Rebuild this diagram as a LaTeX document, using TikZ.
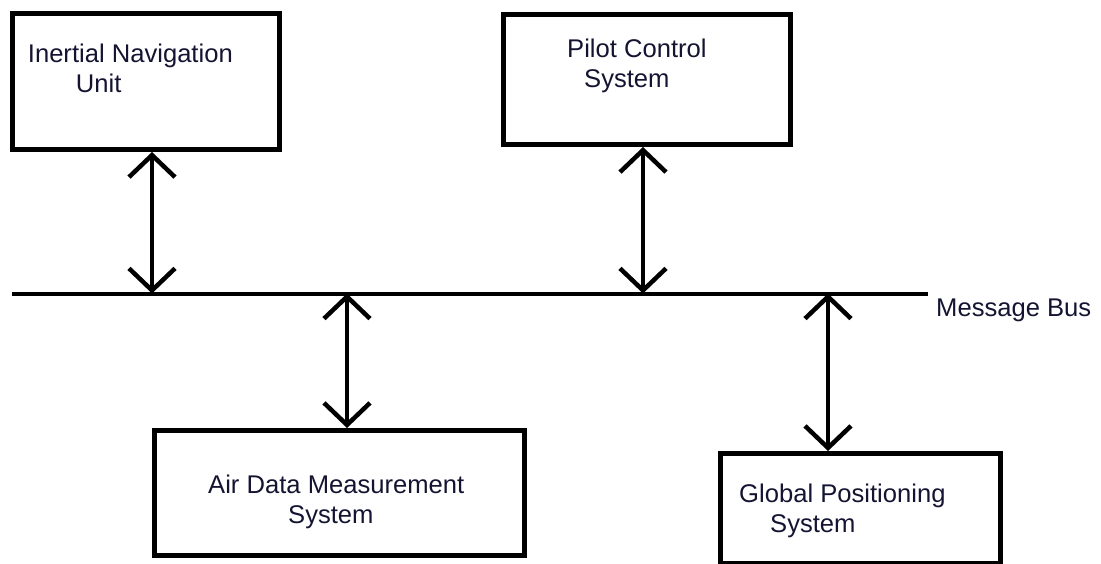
\documentclass[tikz,border=0pt]{standalone}
\usepackage{fontspec}
\setmainfont{Liberation Sans}
\usetikzlibrary{arrows.meta}
\definecolor{ink}{HTML}{141432}
\tikzset{
  unitbox/.style={draw, line width=5pt, inner sep=0pt, rectangle},
  boxtext/.style={anchor=base west, inner sep=0pt, text=ink,
    font=\fontsize{25.6}{30}\selectfont},
  barb/.tip={Straight Barb[length=22pt, width=46pt, line width=4.5pt]},
  buslink/.style={line width=4.5pt, barb-barb}
}
\begin{document}
\begin{tikzpicture}[x=1pt, y=-1pt]
  \useasboundingbox (0,0) rectangle (1101,563);

  % subsystem boxes
  \node[unitbox, minimum width=267pt, minimum height=136pt]   (inu)  at (146,81.5)   {};
  \node[unitbox, minimum width=287pt, minimum height=130pt]   (pcs)  at (647,79.5)   {};
  \node[unitbox, minimum width=370pt, minimum height=125pt]   (adms) at (339.5,493)  {};
  \node[unitbox, minimum width=280pt, minimum height=110pt]   (gps)  at (860.5,508.5) {};

  % box captions
  \node[boxtext] (inuText)  at (27.7,62)
    {\begin{tabular}[t]{@{}l@{}}Inertial Navigation\\\hspace*{48pt}Unit\end{tabular}};
  \node[boxtext] (pcsText)  at (567,57)
    {\begin{tabular}[t]{@{}l@{}}Pilot Control\\\hspace*{17pt}System\end{tabular}};
  \node[boxtext] (admsText) at (208,493)
    {\begin{tabular}[t]{@{}l@{}}Air Data Measurement\\\hspace*{80pt}System\end{tabular}};
  \node[boxtext] (gpsText)  at (739,502)
    {\begin{tabular}[t]{@{}l@{}}Global Positioning\\\hspace*{31pt}System\end{tabular}};

  % message bus
  \coordinate (busW) at (12,293.5);
  \coordinate (busE) at (928,293.5);
  \draw[line width=4pt] (busW) -- (busE);
  \node[boxtext] (busText) at (936,316) {Message Bus};

  % bus taps
  \coordinate (tapInu)  at (152,293.5);
  \coordinate (tapPcs)  at (643,293.5);
  \coordinate (tapAdms) at (347,293.5);
  \coordinate (tapGps)  at (828,293.5);

  % bidirectional links
  \draw[buslink] (inu.south -| tapInu)   -- (tapInu);
  \draw[buslink] (pcs.south -| tapPcs)   -- (tapPcs);
  \draw[buslink] (tapAdms) -- (adms.north -| tapAdms);
  \draw[buslink] (tapGps)  -- (gps.north -| tapGps);
\end{tikzpicture}
\end{document}
